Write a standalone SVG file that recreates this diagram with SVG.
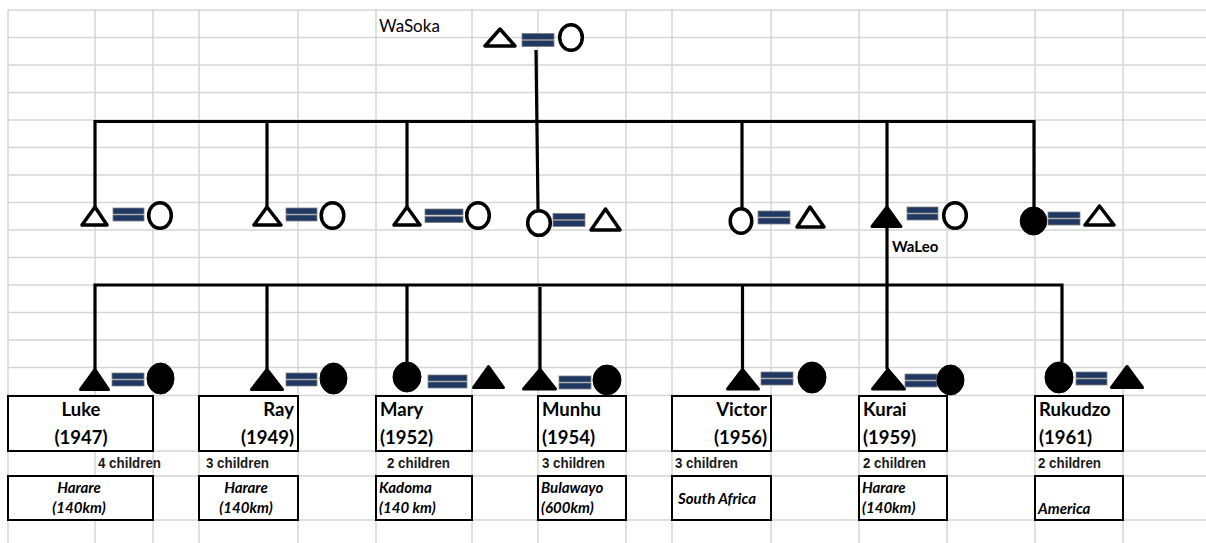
<svg xmlns="http://www.w3.org/2000/svg" width="1206" height="543" viewBox="0 0 1206 543">
  <style>
    .grid { stroke: #d6d6d6; stroke-width: 1.5; fill: none; }
    .link { stroke: #000; stroke-width: 3.2; fill: none; stroke-linejoin: miter; }
    .tri { fill: #fff; stroke: #000; stroke-width: 3.5; stroke-linejoin: round; }
    .trif { fill: #000; stroke: #000; stroke-width: 3; stroke-linejoin: round; }
    .circ { fill: #fff; stroke: #000; stroke-width: 3.5; }
    .circf { fill: #000; stroke: #000; stroke-width: 1; }
    .eq { fill: #1f3864; stroke: #808080; stroke-width: 0.8; }
    .box { fill: #fff; stroke: #000; stroke-width: 2; }
    .name { font-family: Lato, "Liberation Sans", sans-serif; font-weight: bold; font-size: 18.5px; fill: #000; }
    .kids { font-family: "Liberation Sans", Arial, sans-serif; font-weight: bold; font-size: 15px; fill: #1a1a1a; }
    .place { font-family: Lato, "Liberation Sans", sans-serif; font-weight: bold; font-style: italic; font-size: 15px; fill: #000; }
    .label { font-family: Lato, "Liberation Sans", sans-serif; font-size: 17px; fill: #000; }
    .labelb { font-family: Lato, "Liberation Sans", sans-serif; font-weight: bold; font-size: 15px; fill: #000; }
  </style>

  <rect width="1206" height="543" fill="#fff"/>

  <!-- spreadsheet grid -->
  <g id="grid" class="grid">
    <path d="M8,10 V543 M95,10 V543 M153,10 V543 M199,10 V543 M298,10 V543 M376,10 V543 M472,10 V543 M538,10 V543 M626,10 V543 M672,10 V543 M771,10 V543 M859,10 V543 M947,10 V543 M1035,10 V543 M1123,10 V543"/>
    <path d="M8,10 H1206 M8,37.5 H1206 M8,65 H1206 M8,92.5 H1206 M8,120 H1206 M8,147.5 H1206 M8,175 H1206 M8,202.5 H1206 M8,230 H1206 M8,257.5 H1206 M8,285 H1206 M8,312.5 H1206 M8,340 H1206 M8,367.5 H1206 M8,395.5 H1206 M8,451 H1206 M8,476 H1206 M8,520 H1206"/>
  </g>

  <!-- descent lines -->
  <g id="connectors" class="link">
    <path d="M536,50 L538,209"/>
    <path d="M95,207 V121.5 H1034 V208"/>
    <path d="M267,121.5 V207 M407,121.5 V207 M742,121.5 V208 M887,121.5 V207"/>
    <path d="M95,369 V285 H1062 V362"/>
    <path d="M267,285 V369 M407,285 V362 M540,287 V369 M742.5,285 V369 M887,226 V369"/>
  </g>

  <!-- WaSoka couple -->
  <g id="wasoka">
    <text class="label" x="379" y="32">WaSoka</text>
    <path class="tri" d="M500,29 L485,46 L515,46 Z"/>
    <rect class="eq" x="522" y="33.5" width="32" height="6"/>
    <rect class="eq" x="522" y="40.5" width="32" height="6"/>
    <ellipse class="circ" cx="571" cy="37.5" rx="11.3" ry="12.8"/>
  </g>

  <!-- second generation couples -->
  <g id="g2-1">
    <path class="tri" d="M95,207 L82,225 L107,225 Z"/>
    <rect class="eq" x="113" y="208" width="31" height="6"/>
    <rect class="eq" x="113" y="215" width="31" height="6"/>
    <ellipse class="circ" cx="160" cy="215.5" rx="11.3" ry="12.8"/>
  </g>
  <g id="g2-2">
    <path class="tri" d="M267,207 L254,225 L281,225 Z"/>
    <rect class="eq" x="286" y="208" width="31" height="6"/>
    <rect class="eq" x="286" y="215" width="31" height="6"/>
    <ellipse class="circ" cx="332.5" cy="215.5" rx="11.3" ry="12.8"/>
  </g>
  <g id="g2-3">
    <path class="tri" d="M407,207 L394,225 L420,225 Z"/>
    <rect class="eq" x="425" y="209" width="38" height="6"/>
    <rect class="eq" x="425" y="216.5" width="38" height="6"/>
    <ellipse class="circ" cx="478" cy="215.5" rx="11.3" ry="12.8"/>
  </g>
  <g id="g2-4">
    <ellipse class="circ" cx="539" cy="223" rx="11.3" ry="12.3"/>
    <rect class="eq" x="553" y="213.5" width="32" height="6"/>
    <rect class="eq" x="553" y="220.5" width="32" height="6"/>
    <path class="tri" d="M605.5,209 L591,230 L620,230 Z"/>
  </g>
  <g id="g2-5">
    <ellipse class="circ" cx="741" cy="221" rx="10.8" ry="12.3"/>
    <rect class="eq" x="758" y="211" width="32" height="6"/>
    <rect class="eq" x="758" y="218" width="32" height="6"/>
    <path class="tri" d="M810,207 L797,227 L824,227 Z"/>
  </g>
  <g id="waleo">
    <path class="trif" d="M887,207 L872,226.5 L901,226.5 Z"/>
    <rect class="eq" x="907" y="207" width="31" height="6"/>
    <rect class="eq" x="907" y="214" width="31" height="6"/>
    <ellipse class="circ" cx="955" cy="215.5" rx="11.3" ry="12.8"/>
    <text class="labelb" x="892" y="252">WaLeo</text>
  </g>
  <g id="g2-7">
    <ellipse class="circf" cx="1033.5" cy="221" rx="13.3" ry="14"/>
    <rect class="eq" x="1048" y="212" width="32" height="6"/>
    <rect class="eq" x="1048" y="219" width="32" height="6"/>
    <path class="tri" d="M1099.5,206 L1085,225 L1114,225 Z"/>
  </g>

  <!-- third generation: Luke -->
  <g id="luke">
    <path class="trif" d="M95,369.5 L80.5,389.5 L108.5,389.5 Z"/>
    <rect class="eq" x="112" y="373" width="32" height="6"/>
    <rect class="eq" x="112" y="380" width="32" height="6"/>
    <ellipse class="circf" cx="160.5" cy="378.5" rx="13.5" ry="15.5"/>
    <rect class="box" x="8" y="396" width="145" height="55"/>
    <text class="name" x="81" y="416" text-anchor="middle">Luke</text>
    <text class="name" x="81" y="444" text-anchor="middle">(1947)</text>
    <text class="kids" x="98" y="468" textLength="63" lengthAdjust="spacingAndGlyphs">4 children</text>
    <rect class="box" x="8" y="476" width="145" height="44"/>
    <text class="place" x="79" y="493" text-anchor="middle">Harare</text>
    <text class="place" x="79" y="513" text-anchor="middle">(140km)</text>
  </g>

  <!-- Ray -->
  <g id="ray">
    <path class="trif" d="M267,369.5 L251.5,389.5 L282.5,389.5 Z"/>
    <rect class="eq" x="286" y="373" width="31" height="6"/>
    <rect class="eq" x="286" y="380" width="31" height="6"/>
    <ellipse class="circf" cx="333.5" cy="378.5" rx="13.5" ry="15.5"/>
    <rect class="box" x="199" y="396" width="99" height="55"/>
    <text class="name" x="294" y="416" text-anchor="end">Ray</text>
    <text class="name" x="294" y="444" text-anchor="end">(1949)</text>
    <text class="kids" x="206" y="468" textLength="63" lengthAdjust="spacingAndGlyphs">3 children</text>
    <rect class="box" x="199" y="476" width="99" height="44"/>
    <text class="place" x="246" y="493" text-anchor="middle">Harare</text>
    <text class="place" x="246" y="513" text-anchor="middle">(140km)</text>
  </g>

  <!-- Mary -->
  <g id="mary">
    <ellipse class="circf" cx="407" cy="377" rx="14" ry="15"/>
    <rect class="eq" x="428" y="375" width="39" height="6"/>
    <rect class="eq" x="428" y="382" width="39" height="6"/>
    <path class="trif" d="M488.5,366.5 L473.5,387.5 L503.5,387.5 Z"/>
    <rect class="box" x="376" y="396" width="96" height="55"/>
    <text class="name" x="380" y="416">Mary</text>
    <text class="name" x="380" y="444">(1952)</text>
    <text class="kids" x="387" y="468" textLength="63" lengthAdjust="spacingAndGlyphs">2 children</text>
    <rect class="box" x="376" y="476" width="96" height="44"/>
    <text class="place" x="379" y="493">Kadoma</text>
    <text class="place" x="379" y="513">(140 km)</text>
  </g>

  <!-- Munhu -->
  <g id="munhu">
    <path class="trif" d="M540,369.5 L523.5,389 L555.5,389 Z"/>
    <rect class="eq" x="559" y="376" width="32" height="6"/>
    <rect class="eq" x="559" y="383" width="32" height="6"/>
    <ellipse class="circf" cx="607" cy="380" rx="14" ry="15"/>
    <rect class="box" x="538" y="396" width="88" height="55"/>
    <text class="name" x="542" y="416">Munhu</text>
    <text class="name" x="542" y="444">(1954)</text>
    <text class="kids" x="542" y="468" textLength="63" lengthAdjust="spacingAndGlyphs">3 children</text>
    <rect class="box" x="538" y="476" width="88" height="44"/>
    <text class="place" x="541" y="493">Bulawayo</text>
    <text class="place" x="541" y="513">(600km)</text>
  </g>

  <!-- Victor -->
  <g id="victor">
    <path class="trif" d="M742.5,369.5 L727.5,389 L758.5,389 Z"/>
    <rect class="eq" x="761" y="372" width="32" height="6"/>
    <rect class="eq" x="761" y="379" width="32" height="6"/>
    <ellipse class="circf" cx="812" cy="377.5" rx="14" ry="15.5"/>
    <rect class="box" x="672" y="396" width="99" height="55"/>
    <text class="name" x="767" y="416" text-anchor="end">Victor</text>
    <text class="name" x="767" y="444" text-anchor="end">(1956)</text>
    <text class="kids" x="675" y="468" textLength="63" lengthAdjust="spacingAndGlyphs">3 children</text>
    <rect class="box" x="672" y="476" width="99" height="44"/>
    <text class="place" x="678" y="504">South Africa</text>
  </g>

  <!-- Kurai -->
  <g id="kurai">
    <path class="trif" d="M888,369.5 L872.5,389 L904.5,389 Z"/>
    <rect class="eq" x="905" y="374" width="32" height="6"/>
    <rect class="eq" x="905" y="381" width="32" height="6"/>
    <ellipse class="circf" cx="950.5" cy="380" rx="13.5" ry="15"/>
    <rect class="box" x="859" y="396" width="88" height="55"/>
    <text class="name" x="863" y="416">Kurai</text>
    <text class="name" x="863" y="444">(1959)</text>
    <text class="kids" x="863" y="468" textLength="63" lengthAdjust="spacingAndGlyphs">2 children</text>
    <rect class="box" x="859" y="476" width="88" height="44"/>
    <text class="place" x="862" y="493">Harare</text>
    <text class="place" x="862" y="513">(140km)</text>
  </g>

  <!-- Rukudzo -->
  <g id="rukudzo">
    <ellipse class="circf" cx="1059" cy="377.5" rx="14" ry="15.5"/>
    <rect class="eq" x="1076" y="372" width="31" height="6"/>
    <rect class="eq" x="1076" y="379" width="31" height="6"/>
    <path class="trif" d="M1127,366.5 L1111.5,387.5 L1142.5,387.5 Z"/>
    <rect class="box" x="1035" y="396" width="88" height="55"/>
    <text class="name" x="1039" y="416">Rukudzo</text>
    <text class="name" x="1039" y="444">(1961)</text>
    <text class="kids" x="1038" y="468" textLength="63" lengthAdjust="spacingAndGlyphs">2 children</text>
    <rect class="box" x="1035" y="476" width="88" height="44"/>
    <text class="place" x="1038" y="514">America</text>
  </g>
</svg>
